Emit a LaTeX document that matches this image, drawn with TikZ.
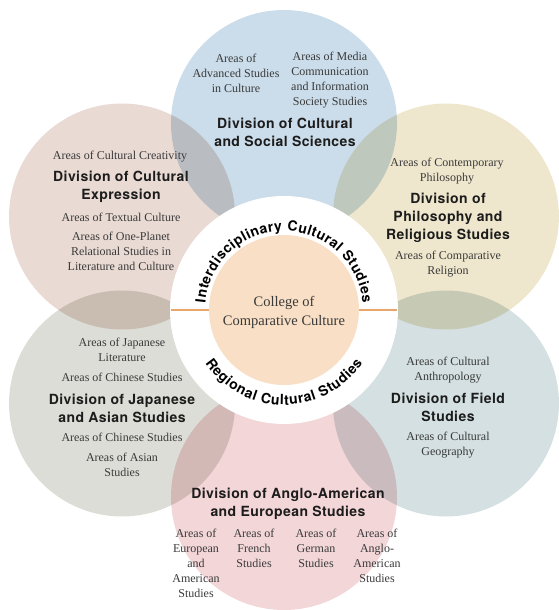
\documentclass[tikz,border=0pt]{standalone}
\usepackage{fontspec}
\setmainfont{Liberation Serif}
\newfontfamily\divfont{TeX Gyre Heros}[LetterSpace=3]
\newfontfamily\ringfont{TeX Gyre Heros}
\usetikzlibrary{decorations.text}

\definecolor{culturalsocial}{RGB}{203,221,234}
\definecolor{expression}{RGB}{233,218,211}
\definecolor{philosophy}{RGB}{239,231,205}
\definecolor{japanese}{RGB}{221,221,215}
\definecolor{field}{RGB}{212,224,225}
\definecolor{angloeuro}{RGB}{243,214,216}
\definecolor{college}{RGB}{248,223,197}
\definecolor{ringline}{RGB}{232,166,107}
\definecolor{areagray}{RGB}{58,58,58}
\definecolor{divblack}{RGB}{28,28,28}

\begin{document}
\begin{tikzpicture}[x=1pt,y=1pt,
  area/.style={font=\fontsize{12}{15}\selectfont, text=areagray, align=center, inner sep=0pt},
  division/.style={font=\divfont\bfseries\fontsize{14}{18}\selectfont, text=divblack, align=center, inner sep=0pt}]
\useasboundingbox (-284,-300) rectangle (275,310);

% the six divisions
\begin{scope}[blend mode=multiply]
\fill[culturalsocial] (90:187) circle (113);
\fill[expression] (150:187) circle (113);
\fill[philosophy] (30:187) circle (113);
\fill[japanese] (210:187) circle (113);
\fill[field] (330:187) circle (113);
\fill[angloeuro] (270:187) circle (113);
\end{scope}

% the college in the middle
\fill[white] (0,0) circle (114);
\coordinate (ringW) at (-113,0);
\coordinate (ringE) at (113,0);
\draw[ringline, line width=2pt] (ringW) -- (ringE);
\fill[college] (0,0) circle (75);
\node[area, font=\fontsize{14.5}{19}\selectfont] (college) at (0,-2) {College of\\Comparative Culture};
\path[decorate, decoration={text along path, text align={fit to path},
  text={|\ringfont\bfseries\fontsize{14}{14}\selectfont|Interdisciplinary Cultural Studies}}]
  (175:79) arc[start angle=175, end angle=5, radius=79];
\path[decorate, decoration={text along path, text align={fit to path},
  text={|\ringfont\bfseries\fontsize{14}{14}\selectfont|Regional Cultural Studies}}]
  (214:95) arc[start angle=214, end angle=326, radius=95];

% top
\node[area] (advanced) at (-48,237) {Areas of\\Advanced Studies\\in Culture};
\node[area] (media) at (46,229.5) {Areas of Media\\Communication\\and Information\\Society Studies};
\node[division] (socialdiv) at (1,178) {Division of Cultural\\and Social Sciences};

% upper left
\node[area] (creativity) at (-164,153) {Areas of Cultural Creativity};
\node[division] (expressiondiv) at (-163,123.5) {Division of Cultural\\Expression};
\node[area] (textual) at (-163,93) {Areas of Textual Culture};
\node[area] (oneplanet) at (-163,59) {Areas of One-Planet\\Relational Studies in\\Literature and Culture};

% upper right
\node[area] (contemporary) at (163,138.5) {Areas of Contemporary\\Philosophy};
\node[division] (philosophydiv) at (164,92) {Division of\\Philosophy and\\Religious Studies};
\node[area] (religion) at (164,45.5) {Areas of Comparative\\Religion};

% lower left
\node[area] (japlit) at (-162,-40) {Areas of Japanese\\Literature};
\node[area] (chineseA) at (-162,-67) {Areas of Chinese Studies};
\node[division] (japanesediv) at (-162,-98) {Division of Japanese\\and Asian Studies};
\node[area] (chineseB) at (-162,-127) {Areas of Chinese Studies};
\node[area] (asian) at (-162,-154.5) {Areas of Asian\\Studies};

% lower right
\node[area] (anthro) at (164,-60) {Areas of Cultural\\Anthropology};
\node[division] (fielddiv) at (164,-97) {Division of Field\\Studies};
\node[area] (geography) at (164,-135) {Areas of Cultural\\Geography};

% bottom
\node[division] (anglodiv) at (4,-194) {Division of Anglo-American\\and European Studies};
\node[area] (european) at (-88,-253) {Areas of\\European\\and\\American\\Studies};
\node[area] (french) at (-30,-238) {Areas of\\French\\Studies};
\node[area] (german) at (32,-238) {Areas of\\German\\Studies};
\node[area] (angloam) at (93,-245.5) {Areas of\\Anglo-\\American\\Studies};
\end{tikzpicture}
\end{document}
